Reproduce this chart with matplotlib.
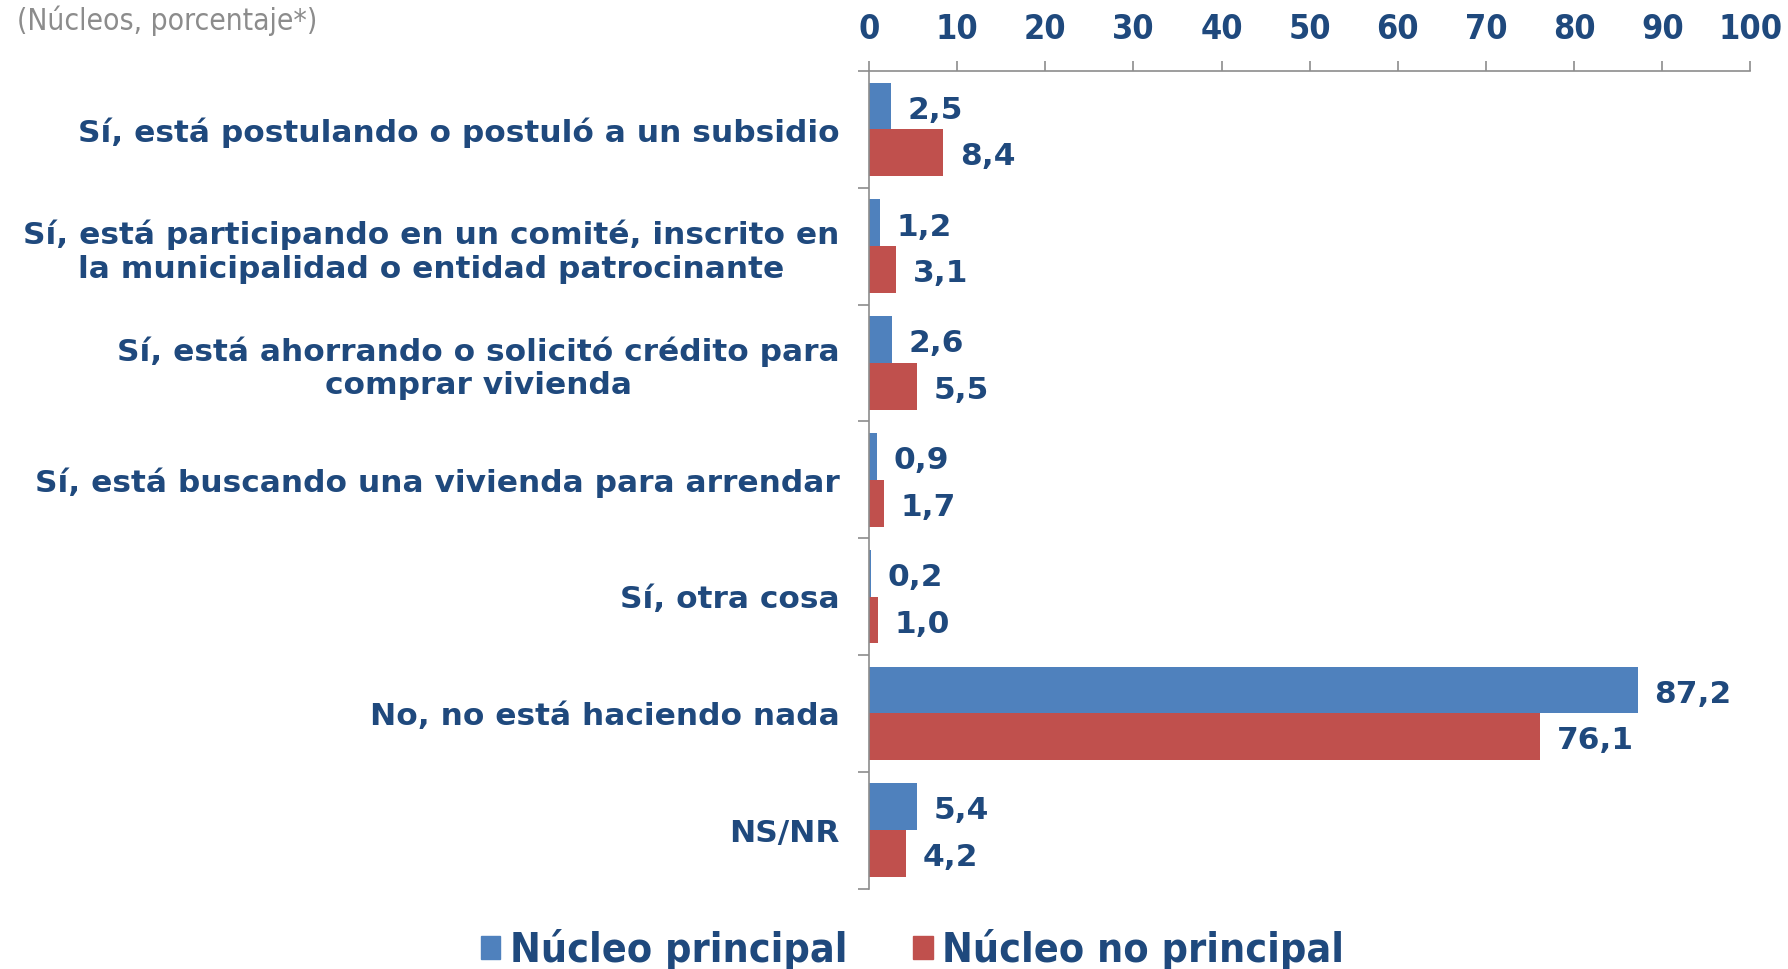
import matplotlib
matplotlib.use("Agg")
import matplotlib.pyplot as plt
from matplotlib.patches import Patch
import numpy as np

categories = [
    "Sí, está postulando o postuló a un subsidio",
    "Sí, está participando en un comité, inscrito en\nla municipalidad o entidad patrocinante",
    "Sí, está ahorrando o solicitó crédito para\ncomprar vivienda",
    "Sí, está buscando una vivienda para arrendar",
    "Sí, otra cosa",
    "No, no está haciendo nada",
    "NS/NR",
]
principal = [2.5, 1.2, 2.6, 0.9, 0.2, 87.2, 5.4]
no_principal = [8.4, 3.1, 5.5, 1.7, 1.0, 76.1, 4.2]
series_names = ["Núcleo principal", "Núcleo no principal"]
xticks = [0, 10, 20, 30, 40, 50, 60, 70, 80, 90, 100]
subtitle = "(Núcleos, porcentaje*)"

BLUE = "#4F81BD"
RED = "#C0504D"
TXT = "#1F497D"
GRAY = "#8C8C8C"

fig = plt.figure(figsize=(17.88, 9.69), dpi=100)
ax = fig.add_axes([0.486, 0.083, 0.493, 0.8437])

y = np.arange(len(categories))
h = 0.4
ax.barh(y - h / 2, principal, height=h, color=BLUE, edgecolor="none")
ax.barh(y + h / 2, no_principal, height=h, color=RED, edgecolor="none")

ax.set_xlim(0, 100)
ax.set_ylim(len(categories) - 0.5, -0.5)

for yi, v in zip(y, principal):
    ax.annotate(f"{v:.1f}".replace(".", ","), (v, yi - h / 2), xytext=(12, -3),
                textcoords="offset points", va="center", ha="left",
                fontsize=22.5, fontweight="bold", color=TXT)
for yi, v in zip(y, no_principal):
    ax.annotate(f"{v:.1f}".replace(".", ","), (v, yi + h / 2), xytext=(12, -3),
                textcoords="offset points", va="center", ha="left",
                fontsize=22.5, fontweight="bold", color=TXT)

# x axis on top
ax.xaxis.tick_top()
ax.set_xticks(xticks)
ax.set_xticklabels([str(t) for t in xticks])
ax.tick_params(axis="x", direction="out", length=7, width=1.2, color="#8C8C8C",
               pad=11, labelsize=24.5, labelcolor=TXT)
for lab in ax.get_xticklabels():
    lab.set_fontweight("bold")
    lab.set_fontstretch("condensed")

# y axis
ax.set_yticks(y)
ax.set_yticklabels(categories, fontsize=22.5, fontweight="bold", color=TXT,
                   ha="right", multialignment="center", linespacing=1.2)
ax.tick_params(axis="y", which="major", length=0, pad=21)
ax.set_yticks(np.arange(-0.5, len(categories) + 0.5, 1), minor=True)
ax.tick_params(axis="y", which="minor", direction="out", length=8, width=1.2,
               color="#8C8C8C")

for s in ["right", "bottom"]:
    ax.spines[s].set_visible(False)
for s in ["left", "top"]:
    ax.spines[s].set_color("#8C8C8C")
    ax.spines[s].set_linewidth(1.2)

fig.text(0.0095, 0.979, subtitle, fontsize=21.5, color=GRAY, ha="left", va="center",
         fontstretch="condensed")

handles = [Patch(color=BLUE), Patch(color=RED)]
leg = fig.legend(handles, series_names, loc="center", bbox_to_anchor=(0.5105, 0.0195),
                 ncol=2, frameon=False, handlelength=0.47, handleheight=0.47,
                 handletextpad=0.24, columnspacing=1.6,
                 prop={"size": 29.5, "weight": "bold", "stretch": "condensed"})
for t in leg.get_texts():
    t.set_color(TXT)

fig.savefig("out.png", dpi=100)
